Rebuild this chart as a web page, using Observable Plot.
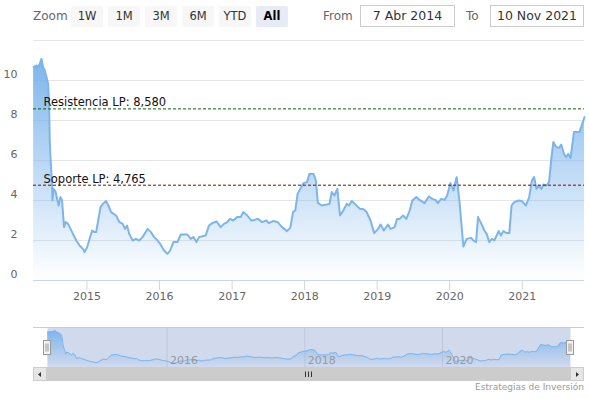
<!DOCTYPE html>
<html><head><meta charset="utf-8">
<script src="https://cdn.jsdelivr.net/npm/d3@7"></script>
<script src="https://cdn.jsdelivr.net/npm/@observablehq/plot@0.6"></script>
<style>
body{margin:0;background:#fff;}
#wrap{position:relative;width:589px;height:399px;overflow:hidden;font-family:"DejaVu Sans",sans-serif;}
.btn{position:absolute;top:6px;width:32px;height:21px;line-height:21px;text-align:center;background:#f7f7f7;color:#333;font-size:11.5px;border-radius:2px;}
.btn.sel{background:#e6ebf5;color:#000;font-weight:bold;}
.lbl{position:absolute;top:6px;height:21px;line-height:21px;color:#666;font-size:12px;}
.box{position:absolute;top:5px;height:22px;line-height:20px;box-sizing:border-box;border:1px solid #ccc;text-align:center;color:#333;font-size:12.5px;}
.credit{position:absolute;right:5px;top:382px;font-size:9px;color:#999;white-space:nowrap;}
</style></head>
<body><div id="wrap"></div>
<script>
// ---- data ----
const dates = [2014.265,2014.305,2014.328,2014.350,2014.373,2014.396,2014.418,2014.442,2014.465,2014.479,2014.487,2014.497,2014.510,2014.520,2014.524,
2014.542,2014.569,2014.593,2014.610,2014.634,2014.657,2014.684,2014.706,2014.739,2014.761,
2014.808,2014.853,2014.898,2014.945,2014.967,2015.004,2015.036,2015.073,2015.104,2015.128,
2015.151,2015.187,2015.219,2015.265,2015.296,2015.333,2015.402,2015.447,2015.494,2015.525,
2015.553,2015.584,2015.631,2015.676,2015.722,2015.768,2015.837,2015.882,2015.927,2015.974,
2016.010,2016.064,2016.111,2016.147,2016.193,2016.248,
2016.294,2016.385,2016.430,2016.468,2016.509,2016.545,2016.636,2016.682,2016.728,2016.787,
2016.842,2016.888,2016.934,2016.970,2017.016,2017.071,2017.117,2017.154,2017.209,2017.263,
2017.309,2017.354,2017.414,2017.473,2017.505,2017.565,2017.628,2017.689,2017.757,2017.802,
2017.840,2017.871,2017.903,2017.940,2017.985,2018.032,2018.067,2018.122,2018.155,2018.182,
2018.237,2018.306,2018.342,2018.374,2018.410,2018.451,2018.488,2018.534,2018.580,2018.612,
2018.649,2018.694,2018.763,2018.808,2018.855,2018.909,2018.959,2019.014,2019.047,2019.092,
2019.151,2019.184,2019.243,2019.274,2019.311,
2019.357,2019.403,2019.449,2019.486,2019.540,2019.586,2019.654,2019.713,2019.760,2019.805,
2019.837,2019.883,2019.929,2019.966,2020.011,2020.052,2020.097,2020.134,2020.189,2020.235,
2020.295,2020.327,2020.364,2020.391,2020.432,2020.477,2020.509,2020.546,2020.583,2020.615,
2020.674,2020.707,2020.738,2020.784,2020.821,2020.852,2020.889,2020.948,2020.995,2021.050,
2021.095,2021.132,2021.163,2021.195,2021.222,2021.263,2021.291,2021.332,2021.369,2021.400,
2021.428,2021.469,2021.506,2021.537,2021.574,2021.606,2021.633,2021.666,2021.712,2021.757,
2021.790,2021.803,2021.858];
const values = [10.67,10.75,10.7,10.83,11.08,10.67,10.5,10.17,9.83,8.67,7.0,6.17,5.33,4.67,4.0,
4.58,4.42,4.0,3.75,4.17,4.0,2.67,2.92,2.83,2.67,
2.33,2.0,1.75,1.58,1.42,1.67,2.08,2.5,2.42,2.42,
2.92,3.67,3.83,3.97,3.75,3.42,3.25,2.92,2.83,2.58,
2.75,2.33,2.0,2.08,2.0,2.17,2.58,2.42,2.17,2.0,
1.83,1.5,1.33,1.5,1.92,1.92,
2.3,2.3,2.08,2.17,1.92,2.17,2.25,2.75,2.87,2.95,
2.67,2.83,2.92,3.08,3.0,3.17,3.17,3.42,3.25,3.0,
3.03,3.08,2.92,3.0,2.87,2.97,2.92,2.67,2.47,2.63,
3.42,3.5,4.33,4.58,4.87,4.92,5.33,5.33,5.0,3.88,
3.75,3.8,3.83,4.42,4.25,4.58,3.25,3.5,3.83,3.75,
3.97,3.83,3.58,3.58,3.42,3.0,2.37,2.58,2.8,2.5,
2.8,2.58,2.67,3.08,3.08,
3.25,3.08,3.5,4.0,4.17,4.03,3.87,4.2,4.08,4.03,
3.87,4.08,4.03,4.25,4.87,4.5,5.17,4.0,1.7,2.08,
2.13,2.0,1.92,3.17,2.87,2.5,2.33,1.92,2.08,2.0,
2.47,2.25,2.47,2.37,2.37,3.75,3.92,4.0,3.97,3.75,
4.17,5.0,5.17,4.58,4.75,4.58,4.8,4.75,4.92,6.08,
6.92,6.67,6.63,6.8,6.33,6.17,6.33,6.13,7.42,7.42,
7.42,7.58,8.17];
const yTicks = [0, 2, 4, 6, 8, 10];
const yGrid = [0, 2, 4, 6, 8, 10, 12];
const yearTicks = ["2015-01-01","2016-01-01","2017-01-01","2018-01-01","2019-01-01","2020-01-01","2021-01-01"];
const navYearTicks = ["2016-01-01","2018-01-01","2020-01-01"];
const plotLineValues = [8.58, 4.765];
const plotLineLabels = ["Resistencia LP: 8,580", "Soporte LP: 4,765"];
const plotLineColors = ["#0b620b", "#7a0a0a"];
const buttonLabels = ["1W","1M","3M","6M","YTD","All"];
const fromText = "7 Abr 2014", toText = "10 Nov 2021";
const startDate = "2014-04-07", endDate = "2021-11-10";
const creditText = "Estrategias de Inversión";

// ---- helpers ----
function toDate(t){const y=Math.floor(t);const a=Date.UTC(y,0,1),b=Date.UTC(y+1,0,1);return new Date(a+(t-y)*(b-a));}
const data = dates.map((t,i)=>({date:toDate(t), value:values[i]}));
const plotLines = plotLineValues.map((v,i)=>({value:v,label:plotLineLabels[i],color:plotLineColors[i]}));
const xDomain = [new Date(startDate), new Date(endDate)];
const wrap = document.getElementById("wrap");
const NS = "http://www.w3.org/2000/svg";
function addGradient(svg,id){
  const defs=document.createElementNS(NS,"defs");
  defs.innerHTML=`<linearGradient id="${id}" x1="0" y1="0" x2="0" y2="1"><stop offset="0" stop-color="#7cb5ec" stop-opacity="1"/><stop offset="1" stop-color="#7cb5ec" stop-opacity="0"/></linearGradient>`;
  svg.insertBefore(defs,svg.firstChild);
}

// ---- main chart ----
const main = Plot.plot({
  width:589, height:310, marginTop:40, marginBottom:30, marginLeft:33, marginRight:5,
  style:{fontFamily:"'DejaVu Sans', sans-serif", fontSize:"11px", color:"#666", background:"transparent", overflow:"visible"},
  x:{type:"utc", domain:xDomain},
  y:{domain:[0,12]},
  marks:[
    Plot.gridY({ticks:yGrid, stroke:"#e6e6e6", strokeOpacity:1}),
    Plot.areaY(data,{x:"date", y:"value", fill:"url(#mainFill)"}),
    Plot.lineY(data,{x:"date", y:"value", stroke:"#7cb5ec", strokeWidth:2, strokeLinejoin:"round"}),
    Plot.ruleY([0],{stroke:"#ccd6eb"}),
    Plot.ruleY(plotLines,{y:"value", stroke:"color", strokeDasharray:"3,2"}),
    Plot.text(plotLines,{y:"value", text:"label", frameAnchor:"left", textAnchor:"start", lineAnchor:"bottom", dx:10, dy:-2.5, fill:"#111", fontSize:11.5, fontFamily:"'DejaVu Sans', sans-serif"}),
    Plot.axisX({ticks:yearTicks.map(d=>new Date(d)), tickFormat:"%Y", tickSize:10, tickPadding:2, stroke:"#ccd6eb", fill:"#666", label:null}),
    Plot.axisY({ticks:yTicks, tickSize:0, tickPadding:0, dx:-16, dy:-6, fill:"#666", label:null, textAnchor:"end"})
  ]
});
main.style.position="absolute"; main.style.left="0px"; main.style.top="0px";
addGradient(main,"mainFill");
wrap.appendChild(main);

// ---- navigator ----
const nav = Plot.plot({
  width:589, height:40, marginTop:0, marginBottom:0, marginLeft:47, marginRight:19,
  style:{fontFamily:"'DejaVu Sans', sans-serif", fontSize:"11px", background:"transparent", overflow:"visible"},
  x:{type:"utc", domain:xDomain, axis:null},
  y:{domain:[0,12], axis:null},
  marks:[
    Plot.ruleX(navYearTicks.map(d=>new Date(d)),{stroke:"#e6e6e6"}),
    Plot.frame({fill:"rgba(102,133,194,0.3)", stroke:null}),
    Plot.areaY(data,{x:"date", y:"value", fill:"url(#navFill)"}),
    Plot.lineY(data,{x:"date", y:"value", stroke:"#7cb5ec", strokeWidth:1}),
    Plot.text(navYearTicks.map(d=>new Date(d)),{x:d=>d, text:d=>String(d.getUTCFullYear()), frameAnchor:"bottom", textAnchor:"start", lineAnchor:"bottom", dx:3, dy:-3.5, fill:"#999", fontSize:11})
  ]
});
nav.style.position="absolute"; nav.style.left="0px"; nav.style.top="327px";
addGradient(nav,"navFill");
wrap.appendChild(nav);

// ---- navigator chrome (outline, handles, scrollbar) ----
const chrome = document.createElementNS(NS,"svg");
chrome.setAttribute("width","589"); chrome.setAttribute("height","399");
chrome.setAttribute("style","position:absolute;left:0;top:0;pointer-events:none");
chrome.innerHTML = `
<path d="M33,327.5H584" stroke="#ccc" fill="none"/>
<rect x="33" y="367" width="551" height="14" fill="#f2f2f2"/>
<rect x="47" y="367" width="523" height="14" fill="#cccccc"/>
<rect x="33.5" y="367.5" width="13" height="13" fill="#e6e6e6" stroke="#ccc"/>
<rect x="570.5" y="367.5" width="13" height="13" fill="#e6e6e6" stroke="#ccc"/>
<path d="M41,372L38,374.5L41,377Z" fill="#333"/>
<path d="M576,372L579,374.5L576,377Z" fill="#333"/>
<path d="M305.5,371.5V377M308.5,371.5V377M311.5,371.5V377" stroke="#333" fill="none"/>
<rect x="43.5" y="340.5" width="7" height="14" fill="#f2f2f2" stroke="#999"/>
<path d="M46,343.5V351.5M48,343.5V351.5" stroke="#999" fill="none"/>
<rect x="566.5" y="340.5" width="7" height="14" fill="#f2f2f2" stroke="#999"/>
<path d="M569,343.5V351.5M571,343.5V351.5" stroke="#999" fill="none"/>`;
wrap.appendChild(chrome);

// ---- range selector ----
function el(cls,txt,left,width){const d=document.createElement("div");d.className=cls;d.textContent=txt;d.style.left=left+"px";if(width)d.style.width=width+"px";wrap.appendChild(d);return d;}
el("lbl","Zoom",33);
buttonLabels.forEach((b,i)=>{el("btn"+(b==="All"?" sel":""),b,71+i*37);});
el("lbl","From",323);
el("box",fromText,360,95);
el("lbl","To",466);
el("box",toText,490,94);
el("credit",creditText,0).style.left="auto";
</script>
</body></html>
